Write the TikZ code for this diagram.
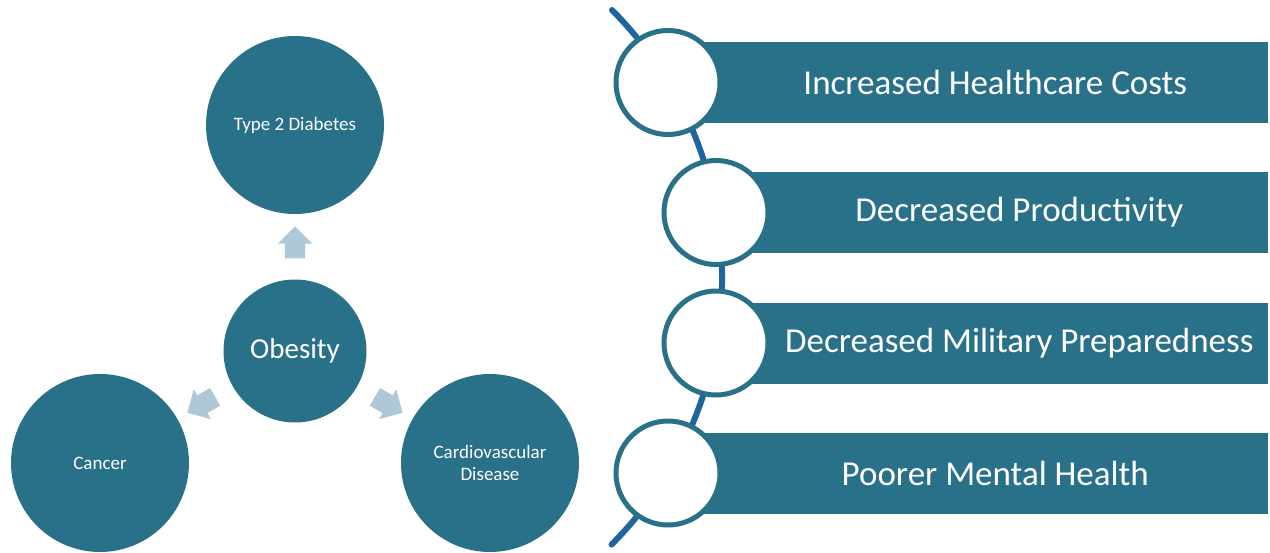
\documentclass[tikz,border=0pt]{standalone}
\usepackage{fontspec}
\setmainfont{Carlito}
\definecolor{DeepTeal}{RGB}{41, 112, 137}
\definecolor{LineBlue}{RGB}{31, 101, 160}
\definecolor{PaleBlue}{RGB}{174, 199, 217}
\usepackage{tikz}
\usetikzlibrary{arrows.meta, positioning, shapes, calc}

\begin{document}
\begin{tikzpicture}[x=1pt, y=-1pt]
        \tikzstyle{disease} = [circle, minimum size=178pt, inner sep=0pt, fill=DeepTeal, text=white, align=center, font=\fontsize{19}{22}\selectfont]
        \tikzstyle{core} = [circle, minimum size=143pt, inner sep=0pt, fill=DeepTeal, text=white, font=\fontsize{29}{34}\selectfont]
        \tikzstyle{push} = [single arrow, fill=PaleBlue, minimum height=32pt, minimum width=34pt, inner sep=0pt, inner ysep=10pt, single arrow head extend=7pt]
        \tikzstyle{ring} = [circle, minimum size=104pt, inner sep=0pt, draw=DeepTeal, line width=5pt, fill=white]
        \tikzstyle{bar} = [rectangle, anchor=east, minimum width=600pt, minimum height=81pt, inner sep=0pt, fill=DeepTeal]
        \tikzstyle{bartext} = [text=white, font=\fontsize{35}{40}\selectfont]

        \useasboundingbox (0,0) rectangle (1270,552);

        % Nodes
        \node (obesity) [core] at (295,351) {Obesity};
        \node (diabetes) [disease] at (295,125) {Type 2 Diabetes};
        \node (cancer) [disease] at (100,463) {Cancer};
        \node (cardio) [disease] at (490,463) {Cardiovascular\\Disease};

        % Arrows
        \node (toDiabetes) [push, rotate=90] at ($(obesity)!0.458!(diabetes)$) {};
        \node (toCancer) [push, rotate=-150] at ($(obesity)!0.458!(cancer)$) {};
        \node (toCardio) [push, rotate=-30] at ($(obesity)!0.458!(cardio)$) {};

        % Spine
        \coordinate (spineTop) at (612,10);
        \draw [LineBlue, line width=6pt, line cap=round] (spineTop) arc[start angle=-44.8, end angle=44.9, radius=379];

        % Bars
        \node (bar1) [bar] at (1268,82.5) {};
        \node (bar2) [bar, minimum width=552pt] at (1268,212.5) {};
        \node (bar3) [bar, minimum width=552pt] at (1268,343) {};
        \node (bar4) [bar] at (1268,473) {};

        % Rings
        \node (ring1) [ring] at (668,82.5) {};
        \node (ring2) [ring] at (716,212.5) {};
        \node (ring3) [ring] at (716,343) {};
        \node (ring4) [ring] at (668,473) {};

        % Labels
        \node (costs) [bartext] at ($(ring1.east)!0.5!(bar1.east)$) {Increased Healthcare Costs};
        \node (productivity) [bartext] at ($(ring2.east)!0.5!(bar2.east)$) {Decreased Productivity};
        \node (military) [bartext] at ($(ring3.east)!0.5!(bar3.east)$) {Decreased Military Preparedness};
        \node (mental) [bartext] at ($(ring4.east)!0.5!(bar4.east)$) {Poorer Mental Health};
    \end{tikzpicture}
\end{document}
